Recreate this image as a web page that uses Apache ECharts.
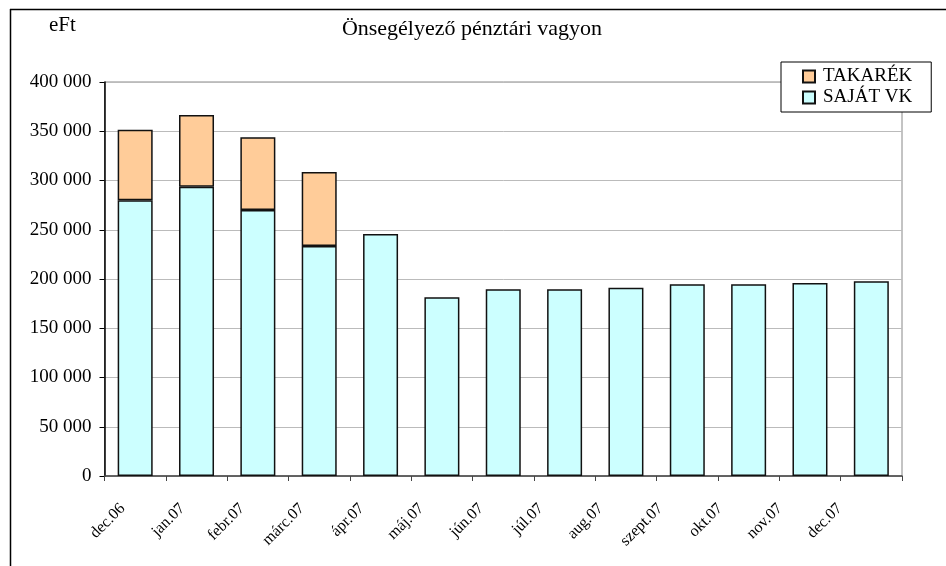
<!DOCTYPE html>
<html lang="hu">
<head>
    <meta charset="UTF-8">
    <title>Önsegélyező pénztári vagyon</title>
</head>
<body style="margin:0;background:#fff">
<div id="chart" style="width: 946px;height: 566px"></div>
<script src="https://cdn.jsdelivr.net/npm/echarts@6/dist/echarts.min.js"></script>
<script>
    var months = ['dec.06', 'jan.07', 'febr.07', 'márc.07', 'ápr.07', 'máj.07', 'jún.07',
        'júl.07', 'aug.07', 'szept.07', 'okt.07', 'nov.07', 'dec.07'];
    var sajatVk = [280000, 293700, 270000, 233500, 245700, 181400, 189500,
        189500, 191000, 194600, 194600, 196000, 197700];
    var takarek = [71600, 72800, 73900, 75100, null, null, null,
        null, null, null, null, null, null];
    var yTicks = {min: 0, max: 400000, step: 50000};

    var serif = '"Liberation Serif", "DejaVu Serif", serif';

    function fmt (v) {
        return String(v).replace(/\B(?=(\d{3})+(?!\d))/g, ' ');
    }

    var chart = echarts.init(document.getElementById('chart'));
    var option = {
        backgroundColor: '#fff',
        animation: false,
        textStyle: {fontFamily: serif, color: '#000'},
        title: {
            text: 'Önsegélyező pénztári vagyon',
            left: 467, top: 13, textAlign: 'center',
            textStyle: {fontFamily: serif, fontSize: 22, fontWeight: 'normal', color: '#000'}
        },
        graphic: [
            {type: 'line', shape: {x1: 10, y1: 9.5, x2: 946, y2: 9.5}, style: {stroke: '#000', lineWidth: 1.5}},
            {type: 'line', shape: {x1: 10.5, y1: 9, x2: 10.5, y2: 566}, style: {stroke: '#000', lineWidth: 1.5}},
            {type: 'text', left: 49, top: 15, style: {text: 'eFt', font: '21px ' + serif, fill: '#000'}}
        ],
        legend: {
            orient: 'vertical',
            left: 781, top: 62,
            padding: [5, 19, 5, 21],
            itemGap: 2,
            itemWidth: 12, itemHeight: 12,
            icon: 'rect',
            backgroundColor: '#fff',
            borderColor: '#000', borderWidth: 1,
            textStyle: {fontFamily: serif, fontSize: 19, color: '#000', padding: [0, 0, 0, 3]},
            data: ['TAKARÉK', 'SAJÁT VK']
        },
        grid: [
            {
                left: 104.5, right: 44, top: 82, bottom: 90,
                show: true, borderColor: '#888', borderWidth: 1,
                containLabel: false
            },
            // label row only: the labels in the original run slightly tighter than the bars
            {left: 104.8, right: 64.4, top: 82, bottom: 90, show: false, containLabel: false}
        ],
        xAxis: [
            {
                type: 'category',
                data: months,
                gridIndex: 0,
                axisLine: {lineStyle: {color: '#444', width: 1.5}},
                axisTick: {show: true, length: 5, lineStyle: {color: '#444'}},
                axisLabel: {show: false}
            },
            {
                type: 'category',
                data: months,
                gridIndex: 1,
                axisLine: {show: false},
                axisTick: {show: false},
                axisLabel: {
                    rotate: 45, margin: 18, fontSize: 16, fontFamily: serif, color: '#000',
                    padding: [0, 17, 0, 0]
                }
            }
        ],
        yAxis: [
            {
                type: 'value',
                gridIndex: 0,
                min: yTicks.min, max: yTicks.max, interval: yTicks.step,
                axisLine: {show: true, lineStyle: {color: '#000', width: 1.5}},
                axisTick: {show: true, length: 5, lineStyle: {color: '#000'}},
                splitLine: {lineStyle: {color: '#bbb', width: 1}},
                axisLabel: {
                    margin: 13, fontSize: 19, fontFamily: serif, color: '#000',
                    formatter: fmt
                }
            },
            {type: 'value', gridIndex: 1, show: false}
        ],
        series: [
            {
                name: 'SAJÁT VK', type: 'bar', stack: 'total', data: sajatVk,
                barWidth: 35,
                itemStyle: {color: '#CCFFFF', borderColor: '#111', borderWidth: 1.5}
            },
            {
                name: 'TAKARÉK', type: 'bar', stack: 'total', data: takarek,
                barWidth: 35,
                itemStyle: {color: '#FFCC99', borderColor: '#111', borderWidth: 1.5}
            }
        ]
    };
    chart.setOption(option);
</script>
</body>
</html>
